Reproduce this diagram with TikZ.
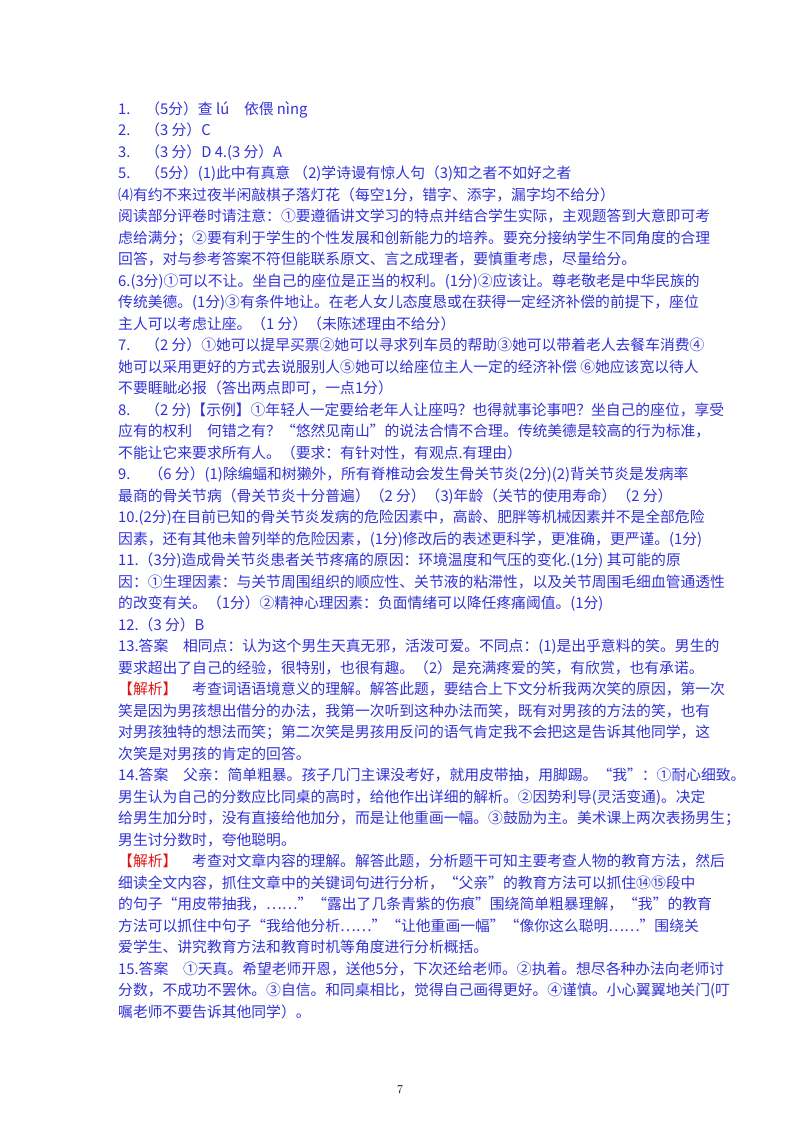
\documentclass[tikz,border=0pt]{standalone}
\usepackage{fontspec}
\newfontfamily\cjk{Noto Sans CJK SC}
\definecolor{txtblue}{RGB}{50,50,215}
\definecolor{txtred}{RGB}{225,20,20}
\newcommand{\Ln}[2]{\node[ln] (l#1) at (118,{114+21.5*(#1-1)}) {#2};}
\newcommand{\jx}{{\color{txtred}【解析】}}
\begin{document}
\begin{tikzpicture}[x=1bp,y=-1bp,
  ln/.style={anchor=base west,inner sep=0pt,text=txtblue,font=\cjk\fontsize{14.8bp}{16bp}\selectfont}]
\useasboundingbox (0,0) rectangle (800,1132);
\fill[white] (0,0) rectangle (800,1132);
\Ln{1}{1.\quad（5分）查 lú\quad 依偎 nìng}
\Ln{2}{2.\quad（3 分）C}
\Ln{3}{3.\quad（3 分）D 4.(3 分）A}
\Ln{4}{5.\quad（5分）(1)此中有真意 （2)学诗谩有惊人句（3)知之者不如好之者}
\Ln{5}{⑷有约不来过夜半闲敲棋子落灯花（每空1分，错字、添字，漏字均不给分）}
\Ln{6}{阅读部分评卷时请注意：①要遵循讲文学习的特点并结合学生实际，主观题答到大意即可考}
\Ln{7}{虑给满分；②要有利于学生的个性发展和创新能力的培养。要充分接纳学生不同角度的合理}
\Ln{8}{回答，对与参考答案不符但能联系原文、言之成理者，要慎重考虑，尽量给分。}
\Ln{9}{6.(3分)①可以不让。坐自己的座位是正当的权利。(1分)②应该让。尊老敬老是中华民族的}
\Ln{10}{传统美德。(1分)③有条件地让。在老人女儿态度恳或在获得一定经济补偿的前提下，座位}
\Ln{11}{主人可以考虑让座。（1 分）（未陈述理由不给分）}
\Ln{12}{7.\quad（2 分）①她可以提早买票②她可以寻求列车员的帮助③她可以带着老人去餐车消费④}
\Ln{13}{她可以采用更好的方式去说服别人⑤她可以给座位主人一定的经济补偿 ⑥她应该宽以待人}
\Ln{14}{不要睚眦必报（答出两点即可，一点1分）}
\Ln{15}{8.\quad（2 分)【示例】①年轻人一定要给老年人让座吗？也得就事论事吧？坐自己的座位，享受}
\Ln{16}{应有的权利\quad 何错之有？“悠然见南山”的说法合情不合理。传统美德是较高的行为标准，}
\Ln{17}{不能让它来要求所有人。（要求：有针对性，有观点.有理由）}
\Ln{18}{9.\quad\ （6 分）(1)除编蝠和树獭外，所有脊椎动会发生骨关节炎(2分)(2)背关节炎是发病率}
\Ln{19}{最商的骨关节病（骨关节炎十分普遍）（2 分）（3)年龄（关节的使用寿命）（2 分）}
\Ln{20}{10.(2分)在目前已知的骨关节炎发病的危险因素中，高龄、肥胖等机械因素并不是全部危险}
\Ln{21}{因素，还有其他未曾列举的危险因素，(1分)修改后的表述更科学，更准确，更严谨。(1分)}
\Ln{22}{11.（3分)造成骨关节炎患者关节疼痛的原因：环境温度和气压的变化.(1分) 其可能的原}
\Ln{23}{因：①生理因素：与关节周围组织的顺应性、关节液的粘滞性，以及关节周围毛细血管通透性}
\Ln{24}{的改变有关。（1分）②精神心理因素：负面情绪可以降任疼痛阈值。(1分)}
\Ln{25}{12.（3 分）B}
\Ln{26}{13.答案\quad 相同点：认为这个男生天真无邪，活泼可爱。不同点：(1)是出乎意料的笑。男生的}
\Ln{27}{要求超出了自己的经验，很特别，也很有趣。（2）是充满疼爱的笑，有欣赏，也有承诺。}
\Ln{28}{\jx\quad 考查词语语境意义的理解。解答此题，要结合上下文分析我两次笑的原因，第一次}
\Ln{29}{笑是因为男孩想出借分的办法，我第一次听到这种办法而笑，既有对男孩的方法的笑，也有}
\Ln{30}{对男孩独特的想法而笑；第二次笑是男孩用反问的语气肯定我不会把这是告诉其他同学，这}
\Ln{31}{次笑是对男孩的肯定的回答。}
\Ln{32}{14.答案\quad 父亲：简单粗暴。孩子几门主课没考好，就用皮带抽，用脚踢。“我”：①耐心细致。}
\Ln{33}{男生认为自己的分数应比同桌的高时，给他作出详细的解析。②因势利导(灵活变通)。决定}
\Ln{34}{给男生加分时，没有直接给他加分，而是让他重画一幅。③鼓励为主。美术课上两次表扬男生；}
\Ln{35}{男生讨分数时，夸他聪明。}
\Ln{36}{\jx\quad 考查对文章内容的理解。解答此题，分析题干可知主要考查人物的教育方法，然后}
\Ln{37}{细读全文内容，抓住文章中的关键词句进行分析，“父亲”的教育方法可以抓住⑭⑮段中}
\Ln{38}{的句子“用皮带抽我，……”“露出了几条青紫的伤痕”围绕简单粗暴理解，“我”的教育}
\Ln{39}{方法可以抓住中句子“我给他分析……”“让他重画一幅”“像你这么聪明……”围绕关}
\Ln{40}{爱学生、讲究教育方法和教育时机等角度进行分析概括。}
\Ln{41}{15.答案\quad ①天真。希望老师开恩，送他5分，下次还给老师。②执着。想尽各种办法向老师讨}
\Ln{42}{分数，不成功不罢休。③自信。和同桌相比，觉得自己画得更好。④谨慎。小心翼翼地关门(叮}
\Ln{43}{嘱老师不要告诉其他同学）。}
\node[anchor=base,inner sep=0pt,font=\fontsize{12bp}{14bp}\selectfont] (pg) at (400,1093) {7};
\end{tikzpicture}
\end{document}
